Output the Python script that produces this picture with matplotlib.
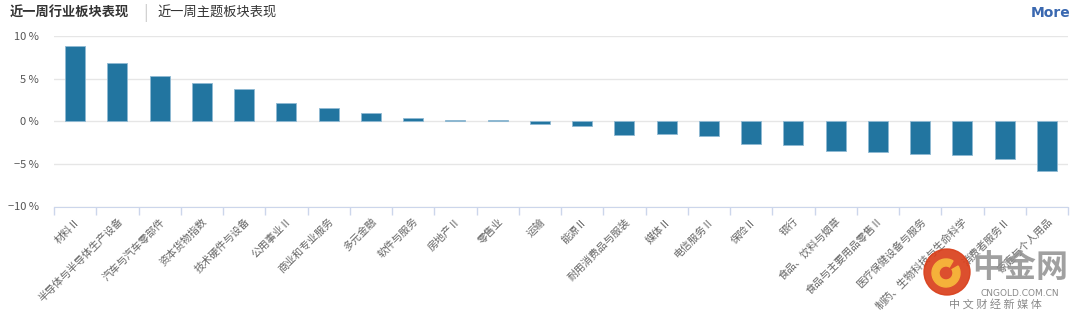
import matplotlib
matplotlib.use("Agg")
import matplotlib.pyplot as plt
import numpy as np
from matplotlib.patches import Circle, Wedge

plt.rcParams['font.family'] = ['Noto Sans CJK SC', 'DejaVu Sans']
plt.rcParams['axes.unicode_minus'] = True

sectors = ['材料Ⅱ', '半导体与半导体生产设备', '汽车与汽车零部件', '资本货物指数',
           '技术硬件与设备', '公用事业Ⅱ', '商业和专业服务', '多元金融', '软件与服务',
           '房地产Ⅱ', '零售业', '运输', '能源Ⅱ', '耐用消费品与服装', '媒体Ⅱ',
           '电信服务Ⅱ', '保险Ⅱ', '银行', '食品、饮料与烟草', '食品与主要用品零售Ⅱ',
           '医疗保健设备与服务', '制药、生物科技与生命科学', '消费者服务Ⅱ', '家庭与个人用品']
changes = [8.77, 6.87, 5.31, 4.53, 3.82, 2.17, 1.56, 1.0, 0.33, 0.12, 0.1, -0.33,
           -0.53, -1.56, -1.55, -1.75, -2.65, -2.77, -3.49, -3.61, -3.81, -3.93,
           -4.4, -5.87]
yticks = [-10, -5, 0, 5, 10]

fig = plt.figure(figsize=(10.8, 3.21), dpi=100)
ax = fig.add_axes([54/1080, 1-206.5/321, 1014/1080, 170.5/321])

for s in ['top', 'right', 'left']:
    ax.spines[s].set_visible(False)
ax.spines['bottom'].set_color('#ccd6eb')

x = np.arange(len(sectors))
ax.bar(x, changes, width=0.47, color='#2275a0', edgecolor='#8fb9d3', linewidth=0.6, zorder=3)

ax.set_xlim(-0.5, len(sectors)-0.5)
ax.set_ylim(-10, 10)
ax.tick_params(axis='y', length=0, pad=11)
ax.set_yticks(yticks)
ax.set_yticklabels(['\u2212' + f'{abs(v)} %' if v < 0 else f'{v} %' for v in yticks],
                   fontsize=8, color='#555555')
ax.grid(axis='y', color='#e6e6e6', linewidth=1, zorder=0)

ax.set_xticks(np.arange(-0.5, len(sectors)), minor=True)
ax.tick_params(axis='x', which='minor', length=6, color='#ccd6eb', width=1)
ax.tick_params(axis='x', which='major', length=0, pad=7)
ax.set_xticks(x)
ax.set_xticklabels(sectors, fontsize=7.5, color='#666666', rotation=45,
                   ha='right', va='top', rotation_mode='anchor')

# header
fig.text(10/1080, 1-13/321, '近一周行业板块表现', fontsize=9.5, fontweight='bold',
         color='#333333', va='center')
fig.text(143/1080, 1-13/321, '|', fontsize=12, color='#cccccc', va='center')
fig.text(157/1080, 1-13/321, '近一周主题板块表现', fontsize=9.5, color='#333333', va='center')
fig.text(1070/1080, 1-13/321, 'More', fontsize=10, fontweight='bold',
         color='#3a68b0', va='center', ha='right', family=['DejaVu Sans'])

# watermark
fig.add_artist(Circle((9.47, 0.49), 0.23, transform=fig.dpi_scale_trans,
                      color='#d9401c', alpha=0.92, zorder=5))
fig.add_artist(Wedge((9.46, 0.48), 0.14, 60, 390, width=0.07,
                     transform=fig.dpi_scale_trans, color='#f5b13a', zorder=6))
fig.text(1020/1080, 1-268/321, '中金网', fontsize=23, fontweight='bold',
         color='#8f8f8f', alpha=0.85, ha='center', va='center', zorder=6)
fig.text(1020/1080, 1-294/321, 'CNGOLD.COM.CN', fontsize=6.5, color='#8a8a8a',
         ha='center', va='center', family=['DejaVu Sans'], zorder=6)
fig.text(995/1080, 1-304/321, '中 文 财 经 新 媒 体', fontsize=8, color='#8a8a8a',
         ha='center', va='center', zorder=6)

fig.savefig('out.png', dpi=100)
